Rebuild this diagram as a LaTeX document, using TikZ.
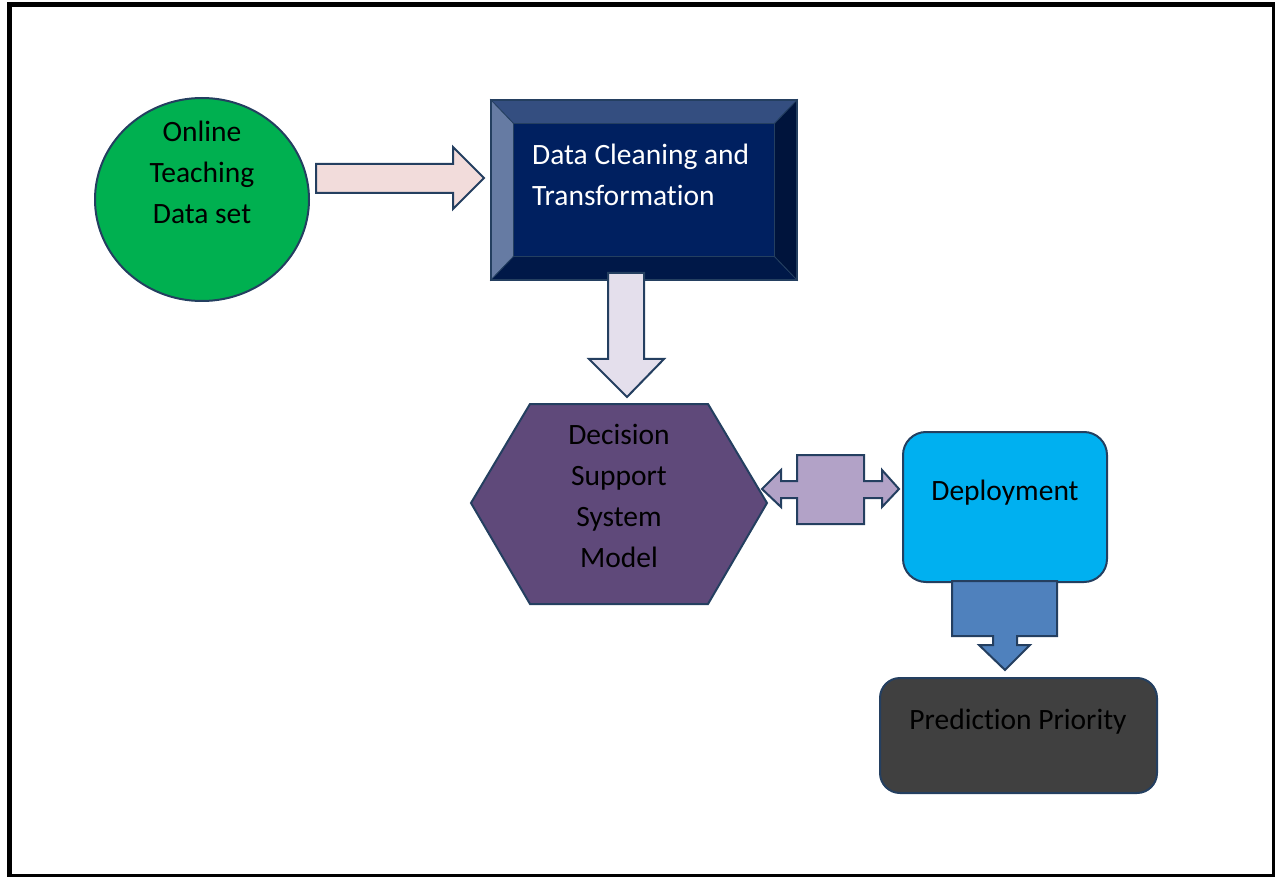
\documentclass[tikz,border=0pt]{standalone}
\usepackage{fontspec}
\setmainfont[Ligatures=CommonOff]{Carlito}
\usetikzlibrary{shapes.geometric,calc}

\definecolor{outl}{HTML}{243F60}
\definecolor{dsgreen}{HTML}{00B050}
\definecolor{arrowpink}{HTML}{F2DCDB}
\definecolor{cleannavy}{HTML}{002060}
\definecolor{bevtop}{HTML}{344E80}
\definecolor{bevleft}{HTML}{667BA3}
\definecolor{bevbottom}{HTML}{001848}
\definecolor{bevright}{HTML}{00143C}
\definecolor{arrowlilac}{HTML}{E4DFEC}
\definecolor{dsspurple}{HTML}{5F497A}
\definecolor{callpurple}{HTML}{B2A2C7}
\definecolor{deployblue}{HTML}{00B0F0}
\definecolor{callblue}{HTML}{4F81BD}
\definecolor{predgray}{HTML}{404040}

\begin{document}
\begin{tikzpicture}[x=1pt,y=-1pt,
  boxline/.style={draw=outl,line width=2pt},
  bevel/.style={draw=outl,line width=0.8pt},
  blockarrow/.style={draw=outl,line width=2pt,line join=miter},
  txt/.style={font=\fontsize{29.5}{41}\selectfont,align=center,inner sep=0pt}]
\useasboundingbox (0,0) rectangle (1275,877);
\draw[line width=5pt] (9.5,4.5) rectangle (1274.5,876.5);

\node[ellipse,boxline,fill=dsgreen,minimum width=214,minimum height=203] (dataset) at (202,199.5) {};
\node[txt] (datasettext) at (202,172) {Online\\Teaching\\Data set};

\node[minimum width=306,minimum height=180,inner sep=0pt] (clean) at (644,190) {};
\coordinate (cnw) at ($(clean.north west)+(23,24)$);
\coordinate (cne) at ($(clean.north east)+(-23,24)$);
\coordinate (csw) at ($(clean.south west)+(23,-24)$);
\coordinate (cse) at ($(clean.south east)+(-23,-24)$);
\filldraw[bevel,fill=bevtop] (clean.north west) -- (clean.north east) -- (cne) -- (cnw) -- cycle;
\filldraw[bevel,fill=bevleft] (clean.north west) -- (cnw) -- (csw) -- (clean.south west) -- cycle;
\filldraw[bevel,fill=bevbottom] (clean.south west) -- (csw) -- (cse) -- (clean.south east) -- cycle;
\filldraw[bevel,fill=bevright] (clean.north east) -- (clean.south east) -- (cse) -- (cne) -- cycle;
\filldraw[bevel,fill=cleannavy] (cnw) rectangle (cse);
\draw[boxline] (clean.north west) rectangle (clean.south east);
\node[txt,align=left,anchor=west,text=white] (cleantext) at (532,175) {Data Cleaning and\\Transformation};

\filldraw[blockarrow,fill=arrowpink] (316,164) -- (453,164) -- (453,147) -- (484,178) -- (453,209) -- (453,193) -- (316,193) -- cycle;
\filldraw[blockarrow,fill=arrowlilac] (608,273) -- (644,273) -- (644,359) -- (664,359) -- (627,397) -- (589,359) -- (608,359) -- cycle;

\filldraw[boxline,fill=dsspurple] (471,503) -- (530,404) -- (708,404) -- (767,503) -- (708,604) -- (530,604) -- cycle;
\node[txt] (dss) at (619,496) {Decision\\Support\\System\\Model};

\filldraw[blockarrow,fill=callpurple] (762,489) -- (781,470) -- (781,481) -- (797,481) -- (797,455) -- (864,455) -- (864,481) -- (882,481) -- (882,470) -- (899,489) -- (882,507) -- (882,498) -- (864,498) -- (864,524) -- (797,524) -- (797,498) -- (781,498) -- (781,507) -- cycle;

\node[rectangle,rounded corners=23pt,boxline,fill=deployblue,minimum width=204,minimum height=150] (deploy) at (1005,507) {};
\node[txt] (deploytext) at (1005,493) {Deployment};

\filldraw[blockarrow,fill=callblue] (952,581) -- (1057,581) -- (1057,636) -- (1017,636) -- (1017,645) -- (1030,645) -- (1005,670) -- (979,645) -- (993,645) -- (993,636) -- (952,636) -- cycle;

\node[rectangle,rounded corners=20pt,boxline,fill=predgray,minimum width=277,minimum height=115] (predict) at (1018.5,735.5) {};
\node[txt] (predtext) at (1018,722) {Prediction Priority};
\end{tikzpicture}
\end{document}
